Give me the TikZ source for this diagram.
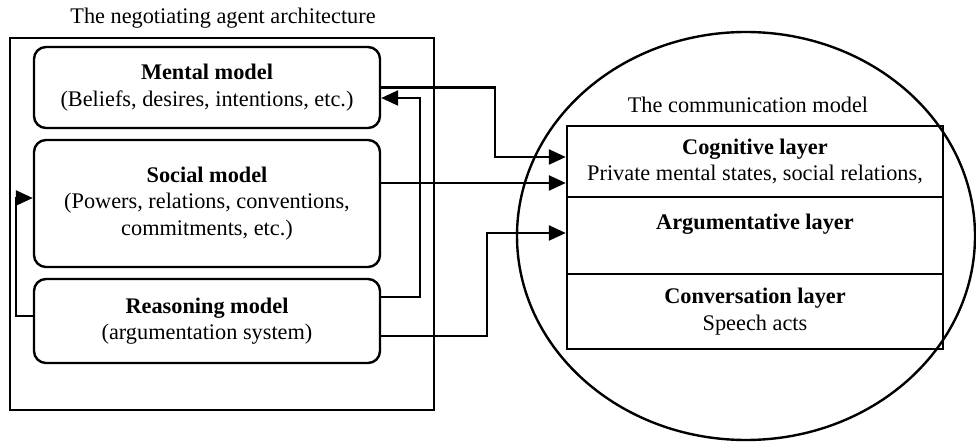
\documentclass[tikz,border=0pt]{standalone}
\usepackage{fontspec}
\setmainfont{Liberation Serif}
\usetikzlibrary{arrows.meta,shapes.geometric}
\begin{document}
\begin{tikzpicture}[x=1pt,y=-1pt,
  lw/.style={line width=2.4pt},
  txt/.style={font=\fontsize{22.3}{26.5}\selectfont,align=center},
  model/.style={draw,lw,rounded corners=12pt,minimum width=346pt,inner sep=0pt,txt},
  layerbox/.style={draw,lw,minimum width=376pt,inner sep=0pt},
  link/.style={lw,-{Triangle[length=17pt,width=15pt]}}
]
\useasboundingbox (0,0) rectangle (976,443);

% agent architecture
\node[draw,lw,minimum width=424pt,minimum height=372pt,inner sep=0pt] (frame) at (222,224) {};
\node[txt] (archtitle) at (223,18) {The negotiating agent architecture};
\node[model,minimum height=81pt] (mental) at (207,87.5)
  {\textbf{Mental model}\\(Beliefs, desires, intentions, etc.)};
\node[model,minimum height=127pt] (social) at (207,203.5)
  {\textbf{Social model}\\(Powers, relations, conventions,\\commitments, etc.)};
\node[model,minimum height=84pt] (reason) at (207,321)
  {\textbf{Reasoning model}\\(argumentation system)};

% communication model
\node[ellipse,draw,lw,minimum width=458pt,minimum height=408pt,inner sep=0pt] (comm) at (746,236) {};
\node[txt] (commtitle) at (748,105) {The communication model};
\node[layerbox,minimum height=71pt] (cog) at (755,161.5) {};
\node[layerbox,minimum height=77pt] (arg) at (755,235.5) {};
\node[layerbox,minimum height=75pt] (conv) at (755,311.5) {};
\node[txt] (cogtxt) at (cog.center) {\textbf{Cognitive layer}\\Private mental states, social relations,};
\node[txt] (argtxt) at (755,224) {\textbf{Argumentative layer}};
\node[txt] (convtxt) at (conv.center) {\textbf{Conversation layer}\\Speech acts};

% connector end points and bends
\coordinate (in1) at ([yshift=4.5pt]cog.west);
\coordinate (in2) at ([yshift=-21.5pt]cog.west);
\coordinate (in3) at ([yshift=2.5pt]arg.west);
\coordinate (r3) at ([yshift=-15pt]reason.east);
\coordinate (r4) at ([yshift=24pt]reason.east);
\coordinate (m4) at ([yshift=-10.5pt]mental.east);
\coordinate (r5) at ([yshift=5pt]reason.west);
\coordinate (s5) at ([yshift=5.5pt]social.west);
\coordinate (bend1) at (495,0);
\coordinate (bend3) at (487,0);
\coordinate (bend4) at (420,0);
\coordinate (bend5) at (16,0);

% connectors
\draw[link] (mental.east) -- (mental.east -| bend1) |- (in1);
\draw[link] (social.east |- in2) -- (in2);
\draw[link] (r3) -- (r3 -| bend3) |- (in3);
\draw[link] (r4) -- (r4 -| bend4) |- (m4);
\draw[link] (r5) -- (r5 -| bend5) |- (s5);
\end{tikzpicture}
\end{document}
